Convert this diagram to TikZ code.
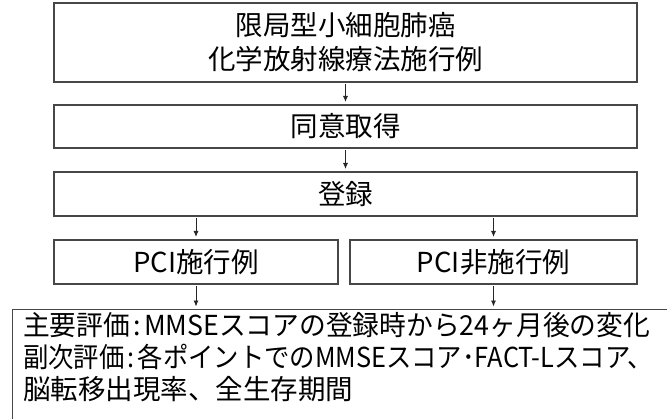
\documentclass[tikz,border=0pt]{standalone}
\usepackage{graphicx}
\usepackage{fontspec}
\newfontfamily\jp{Noto Sans CJK JP}
\usetikzlibrary{arrows.meta}
\begin{document}
\begin{tikzpicture}[x=1pt,y=-1pt,
  boxst/.style={draw=black!72, line width=1.1pt, inner sep=0pt, align=center,
    font=\jp\fontsize{27.5}{34}\selectfont},
  txtst/.style={inner sep=0pt, align=left, font=\jp\fontsize{27.5}{32}\selectfont},
  arr/.style={draw=black!85, line width=0.8pt, -{Latex[length=6pt,width=5pt]},
    shorten >=2.5pt, shorten <=1.5pt}]
\useasboundingbox (0,0) rectangle (667,418);
\clip (0,0) rectangle (667,418);
\node[boxst, minimum width=583pt, minimum height=79pt] (b1) at (345.5,42.5)
  {限局型小細胞肺癌\\化学放射線療法施行例};
\node[boxst, minimum width=583pt, minimum height=43pt] (b2) at (345.5,126.5) {同意取得};
\node[boxst, minimum width=583pt, minimum height=44pt] (b3) at (345.5,194) {登録};
\node[boxst, minimum width=284pt, minimum height=44pt] (b4l) at (196,262) {PCI施行例};
\node[boxst, minimum width=287pt, minimum height=44pt] (b4r) at (493.5,262) {PCI非施行例};
\node[boxst, minimum width=700pt, minimum height=160pt, anchor=north west] (b5) at (12,309) {};
\node[txtst, anchor=north west] (t5) at (23,312)
  {\resizebox{627pt}{\height}{主要評価\hspace{0.12em}:\hspace{0.12em}MMSEスコアの登録時から24ヶ月後の変化}\\
   \resizebox{630pt}{\height}{副次評価\hspace{0.12em}:\hspace{0.12em}各ポイントでのMMSEスコア･FACT-Lスコア、}\\
   脳転移出現率、全生存期間};
\draw[arr] (b1) -- (b2);
\draw[arr] (b2) -- (b3);
\draw[arr] (b3.south -| b4l) -- (b4l);
\draw[arr] (b3.south -| b4r) -- (b4r);
\draw[arr] (b4l) -- (b4l |- b5.north);
\draw[arr] (b4r) -- (b4r |- b5.north);
\end{tikzpicture}
\end{document}
